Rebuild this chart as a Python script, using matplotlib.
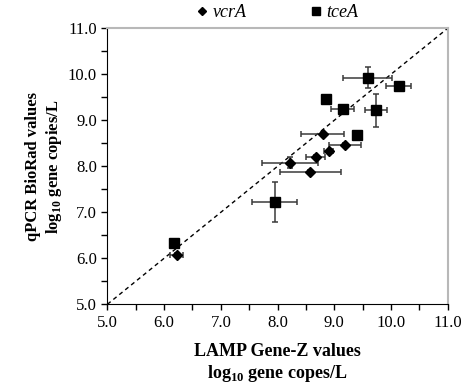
import matplotlib
matplotlib.use("Agg")
import matplotlib.pyplot as plt
from matplotlib.ticker import MultipleLocator, FormatStrFormatter

# vcrA (diamonds)
vcr_x = [8.80, 9.19, 8.90, 8.67, 8.22, 8.58, 6.22]
vcr_y = [8.70, 8.46, 8.33, 8.20, 8.08, 7.88, 6.07]
vcr_xerr = [0.38, 0.28, 0.08, 0.16, 0.49, 0.54, 0.12]
vcr_yerr = [0.05, 0.04, 0.03, 0.05, 0.12, 0.05, 0.04]

# tceA (squares)
tce_x = [9.59, 10.14, 8.85, 9.15, 9.74, 9.40, 7.95, 6.18]
tce_y = [9.93, 9.75, 9.46, 9.25, 9.22, 8.68, 7.22, 6.33]
tce_xerr = [0.43, 0.22, 0.0, 0.20, 0.19, 0.0, 0.40, 0.0]
tce_yerr = [0.23, 0.0, 0.0, 0.04, 0.36, 0.0, 0.44, 0.0]

plt.rcParams['font.family'] = ['Liberation Serif', 'DejaVu Serif']
plt.rcParams['mathtext.fontset'] = 'custom'
plt.rcParams['mathtext.rm'] = 'Liberation Serif:bold'
plt.rcParams['mathtext.bf'] = 'Liberation Serif:bold'

fig = plt.figure(figsize=(4.69, 3.84), dpi=100)
ax = fig.add_axes([0.229, 0.2076, 0.7256, 0.7187])

ax.plot([5, 11], [5, 11], color='black', linestyle=(0, (3, 2.5)), linewidth=1.0, zorder=1)

ax.errorbar(vcr_x, vcr_y, xerr=vcr_xerr, yerr=vcr_yerr, fmt='D', color='black',
            markersize=5, ecolor='#3a3a3a', elinewidth=1.1, capsize=2.5, capthick=1.1,
            label='vcrA', zorder=3)
ax.errorbar(tce_x, tce_y, xerr=tce_xerr, yerr=tce_yerr, fmt='s', color='black',
            markersize=7, ecolor='#3a3a3a', elinewidth=1.1, capsize=2.5, capthick=1.1,
            label='tceA', zorder=3)

ax.set_xlim(5, 11)
ax.set_ylim(5, 11)
ax.xaxis.set_major_locator(MultipleLocator(1))
ax.xaxis.set_minor_locator(MultipleLocator(0.5))
ax.yaxis.set_major_locator(MultipleLocator(1))
ax.yaxis.set_minor_locator(MultipleLocator(0.5))
ax.xaxis.set_major_formatter(FormatStrFormatter('%.1f'))
ax.yaxis.set_major_formatter(FormatStrFormatter('%.1f'))
ax.tick_params(which='both', direction='out', length=4, width=1, labelsize=12)

for s in ['top', 'right']:
    ax.spines[s].set_color('#b8b8b8')
    ax.spines[s].set_linewidth(1.5)
for s in ['left', 'bottom']:
    ax.spines[s].set_color('black')

ax.set_xlabel('LAMP Gene-Z values\nlog$_{10}$ gene copes/L', fontsize=13, fontweight='bold',
              labelpad=9)
ax.set_ylabel('qPCR BioRad values\nlog$_{10}$ gene copies/L', fontsize=12, fontweight='bold',
              labelpad=3)

h, l = ax.get_legend_handles_labels()
h = [hh[0] for hh in h]
leg = ax.legend(h, l, loc='lower center', bbox_to_anchor=(0.5, 1.0), ncol=2, frameon=False,
                prop={'family': 'Liberation Serif', 'style': 'italic', 'size': 13},
                handlelength=0.6, handletextpad=0.3, columnspacing=3.5, borderaxespad=0.0)
for lh in leg.legend_handles:
    lh.set_markersize(4.5 if lh.get_marker() == 'D' else 6)

fig.savefig('out.png', dpi=100)
